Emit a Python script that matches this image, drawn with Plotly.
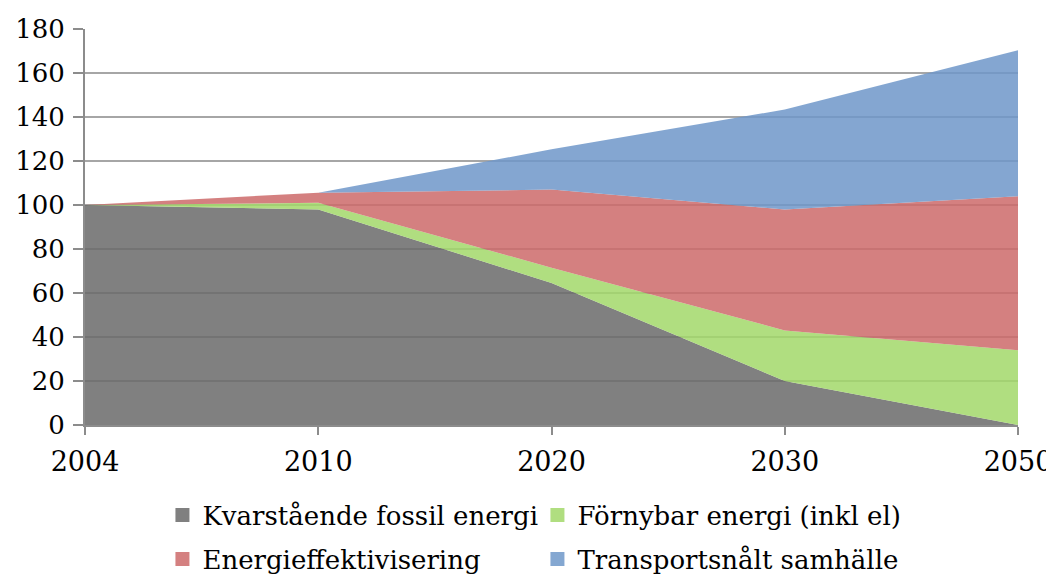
import plotly.graph_objects as go

years = ["2004", "2010", "2020", "2030", "2050"]
fossil = [100, 98, 64.5, 20, 0]
fornybar = [0, 3, 7, 23, 34]
effektiv = [0, 4.6, 35.5, 55, 70]
transport = [0, 0, 18.3, 45.4, 66.3]

names = ["Kvarstående fossil energi", "Förnybar energi (inkl el)",
         "Energieffektivisering", "Transportsnålt samhälle"]
series = [fossil, fornybar, effektiv, transport]
fills = ["rgba(106,106,106,0.85)", "rgba(162,216,106,0.85)",
         "rgba(204,106,106,0.85)", "rgba(110,151,201,0.85)"]
legend_cols = ["#808080", "#b0de80", "#d48080", "#84a7d1"]
legend_ids = ["legend", "legend", "legend2", "legend2"]

fig = go.Figure()
for n, s, fc in zip(names, series, fills):
    fig.add_trace(go.Scatter(x=years, y=s, name=n, stackgroup="one",
                             mode="none", fillcolor=fc, showlegend=False,
                             hoverinfo="x+y+name"))
for n, c, lg in zip(names, legend_cols, legend_ids):
    fig.add_trace(go.Scatter(x=[None], y=[None], name=n, mode="markers",
                             marker=dict(symbol="square", size=14, color=c),
                             showlegend=True, legend=lg))

font = "DejaVu Serif"
leg_common = dict(orientation="h", x=0.083, xanchor="left", yanchor="top",
                  traceorder="normal", entrywidth=330, entrywidthmode="pixels",
                  itemwidth=30, font=dict(family=font, size=26),
                  tracegroupgap=0, bgcolor="rgba(0,0,0,0)")
fig.update_layout(
    width=1046, height=570,
    margin=dict(l=77, r=36, t=21, b=153, autoexpand=False),
    paper_bgcolor="white", plot_bgcolor="white",
    font=dict(family=font, size=26, color="black"),
    showlegend=True,
    legend=dict(y=-0.168, **leg_common),
    legend2=dict(y=-0.279, **leg_common),
    xaxis=dict(type="category", range=[0, 4], showgrid=False, automargin=False,
               showline=True, linecolor="#8c8c8c", linewidth=2,
               ticks="outside", ticklen=8, tickcolor="#8c8c8c", tickwidth=2,
               tickfont=dict(family=font, size=27), zeroline=False,
               ticklabelstandoff=4),
    yaxis=dict(range=[0, 180], dtick=20, showgrid=True, gridcolor="#a6a6a6",
               gridwidth=2, showline=True, linecolor="#8c8c8c", linewidth=2,
               automargin=False,
               ticks="outside", ticklen=10, tickcolor="#8c8c8c", tickwidth=2,
               tickfont=dict(family=font, size=26), zeroline=False,
               ticklabelstandoff=3),
)
fig.write_html("out.html")
